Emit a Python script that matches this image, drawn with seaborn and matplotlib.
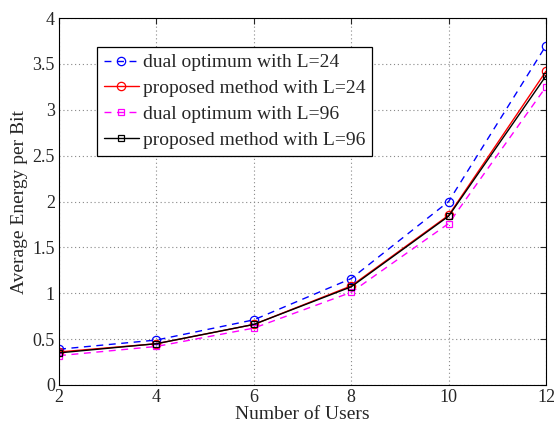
import numpy as np
import pandas as pd
import matplotlib
matplotlib.use("Agg")
import matplotlib.pyplot as plt
import seaborn as sns

sns.set_style("white")
plt.rcParams['font.family'] = ['Liberation Serif', 'DejaVu Serif']

users = [2, 4, 6, 8, 10, 12]
dual_24 = [0.39, 0.49, 0.71, 1.16, 2.00, 3.70]
prop_24 = [0.36, 0.45, 0.66, 1.08, 1.85, 3.42]
dual_96 = [0.32, 0.42, 0.62, 1.01, 1.76, 3.25]
prop_96 = [0.35, 0.45, 0.66, 1.07, 1.84, 3.37]

labels = ['dual optimum with L=24', 'proposed method with L=24',
          'dual optimum with L=96', 'proposed method with L=96']
series = [dual_24, prop_24, dual_96, prop_96]
colors = ['#0000ff', '#ff0000', '#ff00ff', '#000000']
styles = [(0, (5, 4)), '-', (0, (5, 4)), '-']
markers = ['o', 'o', 's', 's']

fig, ax = plt.subplots(figsize=(5.54, 4.24), dpi=100)
fig.subplots_adjust(left=0.1065, right=0.9856, bottom=0.092, top=0.9575)

for lab, vals, c, ls, m in zip(labels, series, colors, styles, markers):
    df = pd.DataFrame({'users': users, 'energy': vals})
    sns.lineplot(data=df, x='users', y='energy', ax=ax, color=c, linestyle=ls,
                 marker=m, markersize=6 if m == 'o' else 5,
                 markerfacecolor='none', markeredgecolor=c, markeredgewidth=0.9,
                 linewidth=1.0, label=lab)

ax.set_xlim(2, 12)
ax.set_ylim(0, 4)
ax.set_xticks([2, 4, 6, 8, 10, 12])
ax.set_yticks(np.arange(0, 4.01, 0.5))
ax.set_yticklabels(['0', '0.5', '1', '1.5', '2', '2.5', '3', '3.5', '4'])
ax.grid(True, color='#888888', linestyle=(0, (1, 2.5)), linewidth=0.8)
ax.tick_params(direction='in', top=True, right=True, labelsize=13, length=4, pad=3)
for sp in ax.spines.values():
    sp.set_color('black')
    sp.set_linewidth(0.8)
ax.set_xlabel('Number of Users', fontsize=14, labelpad=0)
ax.set_ylabel('Average Energy per Bit', fontsize=14, labelpad=3)

leg = ax.legend(loc='upper left', bbox_to_anchor=(0.078, 0.921), fontsize=14,
                frameon=True, fancybox=False, edgecolor='black', framealpha=1,
                handlelength=1.8, handletextpad=0.2, borderpad=0.35,
                labelspacing=0.42, borderaxespad=0)
leg.get_frame().set_linewidth(0.9)

fig.savefig('out.png', dpi=100)
